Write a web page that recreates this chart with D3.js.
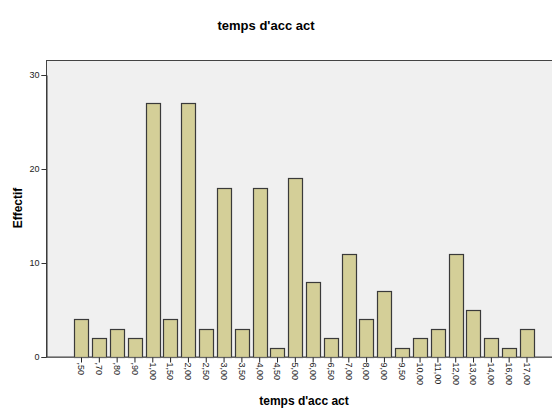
<!DOCTYPE html>
<html>
<head>
<meta charset="utf-8">
<script src="https://cdn.jsdelivr.net/npm/d3@7"></script>
<style>
  body { margin: 0; background: #fff; }
  text { font-family: "Liberation Sans", Arial, sans-serif; }
</style>
</head>
<body>
<div id="chart"></div>
<script>
// categories (x) and counts
var categories = [",50", ",70", ",80", ",90", "1,00", "1,50", "2,00", "2,50", "3,00", "3,50",
                  "4,00", "4,50", "5,00", "6,00", "6,50", "7,00", "8,00", "9,00", "9,50",
                  "10,00", "11,00", "12,00", "13,00", "14,00", "16,00", "17,00"];
var counts = [4, 2, 3, 2, 27, 4, 27, 3, 18, 3, 18, 1, 19, 8, 2, 11, 4, 7, 1, 2, 3, 11, 5, 2, 1, 3];
var yTicks = [0, 10, 20, 30];

var width = 552, height = 408;
var plot = {left: 46.5, top: 60.5, right: 556, bottom: 357};

var svg = d3.select("#chart")
  .append("svg")
    .attr("width", width)
    .attr("height", height);

// title
svg.append("text")
  .attr("x", 266)
  .attr("y", 30)
  .attr("text-anchor", "middle")
  .style("font-size", "13px")
  .style("font-weight", "bold")
  .text("temps d'acc act");

// plot background
svg.append("rect")
  .attr("x", plot.left)
  .attr("y", plot.top)
  .attr("width", plot.right - plot.left)
  .attr("height", plot.bottom - plot.top)
  .attr("fill", "#f0f0f0")
  .attr("stroke", "#444")
  .attr("stroke-width", 1);

var x = d3.scaleBand()
  .domain(categories)
  .range([72.6, 535.9])
  .paddingInner(0.2)
  .paddingOuter(0.1);

var y = d3.scaleLinear()
  .domain([0, 30])
  .range([plot.bottom, 75]);

// bars
svg.selectAll("rect.bar")
  .data(counts)
  .enter()
  .append("rect")
  .attr("class", "bar")
  .attr("x", function(d, i) { return Math.round(x(categories[i])) + 0.5; })
  .attr("y", function(d) { return Math.round(y(d)) + 0.5; })
  .attr("width", Math.round(x.bandwidth()))
  .attr("height", function(d) { return Math.round(y(0)) - Math.round(y(d)); })
  .attr("fill", "#d4cf98")
  .attr("stroke", "#3a3a3a")
  .attr("stroke-width", 1.2);

// y axis
var yAxis = svg.append("g")
  .attr("transform", "translate(" + plot.left + ",0)")
  .call(d3.axisLeft(y).tickValues(yTicks).tickSize(5).tickPadding(2));
yAxis.select(".domain").attr("stroke", "#333");
yAxis.selectAll(".tick line").attr("stroke", "#333");
yAxis.selectAll(".tick text")
  .style("font-size", "9px")
  .style("font-family", "'Liberation Sans', Arial, sans-serif")
  .attr("fill", "#222");

// x axis (baseline)
var xAxis = svg.append("g")
  .attr("transform", "translate(0," + (plot.bottom + 0.5) + ")")
  .call(d3.axisBottom(x).tickSize(5).tickSizeOuter(0).tickPadding(0));
xAxis.select(".domain")
  .attr("d", "M" + plot.left + ",0H" + plot.right)
  .attr("stroke", "#666");
xAxis.selectAll(".tick line").attr("stroke", "#222");
xAxis.selectAll(".tick text")
  .style("font-size", "9px")
  .style("font-family", "'Liberation Sans', Arial, sans-serif")
  .attr("fill", "#222")
  .attr("text-anchor", "start")
  .attr("dy", "0.35em")
  .attr("y", 0)
  .attr("x", 0)
  .attr("transform", "translate(0,5) rotate(90)");

// axis titles
svg.append("text")
  .attr("x", 304)
  .attr("y", 405)
  .attr("text-anchor", "middle")
  .style("font-size", "12px")
  .style("font-weight", "bold")
  .text("temps d'acc act");

svg.append("text")
  .attr("transform", "translate(22,208) rotate(-90)")
  .attr("text-anchor", "middle")
  .style("font-size", "12px")
  .style("font-weight", "bold")
  .text("Effectif");
</script>
</body>
</html>
